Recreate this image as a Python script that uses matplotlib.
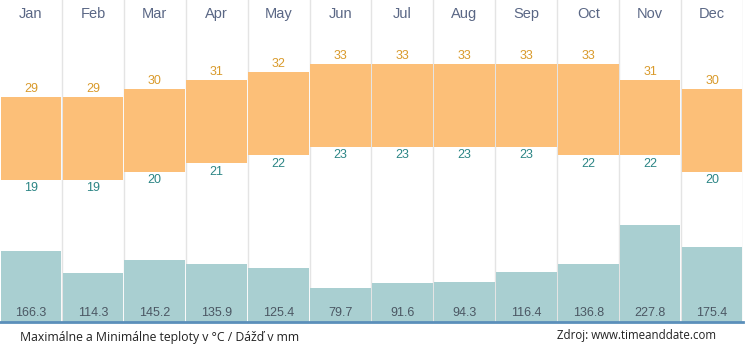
import matplotlib.pyplot as plt
import numpy as np

months = ['Jan', 'Feb', 'Mar', 'Apr', 'May', 'Jun', 'Jul', 'Aug', 'Sep', 'Oct', 'Nov', 'Dec']
t_max = [29, 29, 30, 31, 32, 33, 33, 33, 33, 33, 31, 30]
t_min = [19, 19, 20, 21, 22, 23, 23, 23, 23, 22, 22, 20]
rain = [166.3, 114.3, 145.2, 135.9, 125.4, 79.7, 91.6, 94.3, 116.4, 136.8, 227.8, 175.4]

W, H = 746, 350
fig = plt.figure(figsize=(W / 100, H / 100), dpi=100)
plt.rcParams['font.family'] = ['Liberation Sans', 'DejaVu Sans']

base = 322  # pixel row of the baseline
ax = fig.add_axes([0, (H - base) / H, 743 / W, base / H])
ax2 = ax.twinx()
ax.set_zorder(2)
ax.patch.set_visible(False)

x = np.arange(12)
ax.set_xlim(-0.5, 11.5)
# temperature scale: ~8.3 px per degree
ax.set_ylim(29 - (base - 97) / 8.3, 29 + 97 / 8.3)
# rain scale: ~0.427 px per mm
ax2.set_ylim(0, base / 0.427)

# column separators
for b in np.arange(0.5, 12, 1):
    ax2.axvline(b, color='#e4e4e4', lw=1, zorder=0)

ax2.bar(x, rain, width=0.98, color='#a9cfd1', zorder=1)
ax.bar(x, np.array(t_max) - np.array(t_min), bottom=t_min, width=0.98,
       color='#fcbf78', zorder=2)

for i in range(12):
    ax.text(i, t_max[i] + 0.25, str(t_max[i]), ha='center', va='bottom',
            fontsize=9, color='#d99a2b')
    ax.text(i, t_min[i] - 0.3, str(t_min[i]), ha='center', va='top',
            fontsize=9, color='#2b8585')
    ax2.text(i, 6, f'{rain[i]:.1f}', ha='center', va='bottom',
             fontsize=9, color='#4b5763')
    ax.text(i, 29 + (97 - 14) / 8.3, months[i], ha='center', va='center',
            fontsize=10.5, color='#5a6785')

for a in (ax, ax2):
    a.set_xticks([])
    a.set_yticks([])
    for s in a.spines.values():
        s.set_visible(False)

# baseline
fig.add_artist(plt.Line2D([0, 743 / W], [(H - base) / H] * 2, color='#5b8fba', lw=2))

fig.text(20 / W, 1 - 337 / H, 'Maximálne a Minimálne teploty v °C / Dážď v mm',
         fontsize=8.8, family=['Open Sans', 'DejaVu Sans'], va='center', color='#222222')
fig.text(557 / W, 1 - 335 / H, 'Zdroj: www.timeanddate.com',
         fontsize=8.3, family=['Open Sans', 'DejaVu Sans'], va='center', color='#222222')

fig.savefig('out.png', dpi=100)
